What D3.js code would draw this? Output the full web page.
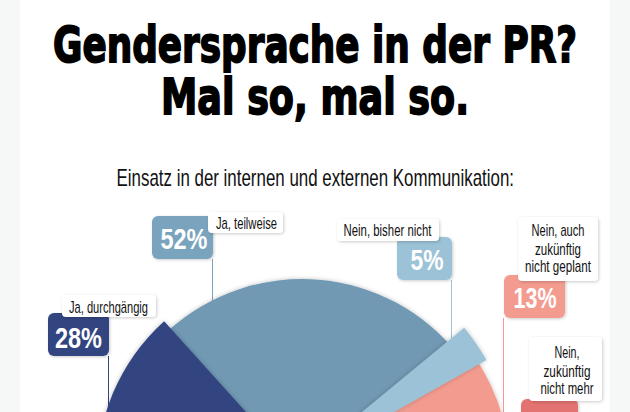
<!DOCTYPE html>
<html>
<head>
<meta charset="utf-8">
<script src="https://cdn.jsdelivr.net/npm/d3@7"></script>
<style>
    html, body { margin: 0; padding: 0; background: #f5f8f7; overflow: hidden; }
    svg { display: block; }
    text { font-family: "Liberation Sans", sans-serif; }
    text.title { font-family: "DejaVu Sans", sans-serif; }
</style>
</head>
<body>
<svg id="chart" width="630" height="412"></svg>
<script>
const titleLines = ['Gendersprache in der PR?', 'Mal so, mal so.'];
const subtitle = 'Einsatz in der internen und externen Kommunikation:';

const categories = ['Ja, durchgängig', 'Ja, teilweise', 'Nein, bisher nicht', 'Nein, auch zukünftig nicht geplant', 'Nein, zukünftig nicht mehr'];
const values = [28, 52, 5, 13, 2];
const colors = ['#334581', '#7199b3', '#9bc2d6', '#f39b8f', '#e37370'];
const boxColors = ['#334581', '#7aa4be', '#9bc2d6', '#f39b8f', '#e37370'];
const labelLines = [['Ja, durchgängig'], ['Ja, teilweise'], ['Nein, bisher nicht'], ['Nein, auch', 'zukünftig', 'nicht geplant'], ['Nein,', 'zukünftig', 'nicht mehr']];

const svg = d3.select('#chart');
const defs = svg.append('defs');

function addShadow(id, dx, dy, blur, opacity) {
    const f = defs.append('filter').attr('id', id)
        .attr('x', '-30%').attr('y', '-30%').attr('width', '160%').attr('height', '160%');
    f.append('feDropShadow')
        .attr('dx', dx).attr('dy', dy)
        .attr('stdDeviation', blur)
        .attr('flood-color', '#000').attr('flood-opacity', opacity);
}
addShadow('soft', 1, 1, 1.5, 0.2);
addShadow('slice', 0, 0, 2, 0.25);

// white page with pale side strips
svg.append('rect').attr('x', 20).attr('y', 0).attr('width', 590).attr('height', 412).attr('fill', '#fff');

// title, squeezed to the width of the original heavy condensed face
const titleBoxes = [[53, 577, 62], [161, 469, 114]];
svg.selectAll('text.title').data(titleLines).enter()
    .append('text')
    .classed('title', true)
    .attr('x', (d, i) => titleBoxes[i][0])
    .attr('y', (d, i) => titleBoxes[i][2])
    .attr('textLength', (d, i) => titleBoxes[i][1] - titleBoxes[i][0])
    .attr('lengthAdjust', 'spacingAndGlyphs')
    .attr('font-size', 49)
    .attr('font-weight', 700)
    .attr('stroke', '#000')
    .attr('stroke-width', 1.8)
    .attr('fill', '#000')
    .text(d => d);

svg.append('text')
    .attr('x', 116.5)
    .attr('y', 186)
    .attr('textLength', 397.5)
    .attr('lengthAdjust', 'spacingAndGlyphs')
    .attr('font-size', 24)
    .attr('fill', '#111')
    .text(subtitle);

// half pie, turned a little to the left like the original
const tilt = -2.4 * Math.PI / 180;
const pie = d3.pie().sort(null)
    .startAngle(-Math.PI / 2 + tilt)
    .endAngle(Math.PI / 2 + tilt);
const slices = pie(values);

// each slice sits a bit differently: offset from the centre, radius, and how far it tucks under its neighbour
const sliceLayout = [
    { dx: -2, dy: -6, r: 203, tuck: 0 },
    { dx: 0, dy: 0, r: 199, tuck: 0 },
    { dx: -9, dy: -9, r: 222, tuck: 0.02 },
    { dx: 3, dy: -6, r: 205, tuck: 0.1 },
    { dx: 3, dy: -6, r: 205, tuck: 0 }
];
const cx = 302, cy = 478;
const drawOrder = [1, 3, 4, 0, 2];

// callouts, with the drawn width of each text
const callouts = [
    { box: [48, 313, 61, 43], baseline: 348, tx: 78.5, tw: 47, label: [62, 295, 94, 22], lines: [313], widths: [79], lx: 108.5, stem: [108.5, 356, 412] },
    { box: [152, 216, 61, 43], baseline: 249, tx: 184, tw: 47, label: [208, 212, 75, 21], lines: [229], widths: [61], lx: 246.5, stem: [212.5, 259, 302] },
    { box: [397, 237, 55, 43], baseline: 270, tx: 427, tw: 33, label: [337, 219, 102, 22], lines: [236], widths: [88], lx: 387.5, stem: [451.5, 280, 342] },
    { box: [504, 275, 61, 43], baseline: 308, tx: 535, tw: 43, label: [518, 217, 80, 64], lines: [236, 255, 272], widths: [53, 46, 66], lx: 558, stem: [503.5, 318, 412] },
    { box: [521, 399, 57, 43], baseline: 432, tx: 549, tw: 33, label: [529, 337, 73, 64], lines: [358, 377, 394], widths: [25, 47, 53], lx: 567, stem: null }
];

const stems = svg.append('g');
callouts.forEach((c, i) => {
    if (!c.stem) return;
    stems.append('line')
        .attr('x1', c.stem[0]).attr('x2', c.stem[0])
        .attr('y1', c.stem[1]).attr('y2', c.stem[2])
        .attr('stroke', boxColors[i])
        .attr('stroke-width', 1);
});

const pieGroup = svg.append('g');
drawOrder.forEach(i => {
    const s = sliceLayout[i];
    const arc = d3.arc().innerRadius(0).outerRadius(s.r);
    const slice = { startAngle: slices[i].startAngle - s.tuck, endAngle: slices[i].endAngle };
    pieGroup.append('path')
        .attr('transform', `translate(${cx + s.dx},${cy + s.dy})`)
        .attr('d', arc(slice))
        .attr('fill', colors[i])
        .attr('filter', 'url(#slice)');
});

const boxes = svg.append('g');
callouts.forEach((c, i) => {
    boxes.append('rect')
        .attr('x', c.box[0]).attr('y', c.box[1])
        .attr('width', c.box[2]).attr('height', c.box[3])
        .attr('rx', 6)
        .attr('fill', boxColors[i])
        .attr('filter', 'url(#soft)');
    boxes.append('text')
        .attr('x', c.tx).attr('y', c.baseline)
        .attr('text-anchor', 'middle')
        .attr('textLength', c.tw)
        .attr('lengthAdjust', 'spacingAndGlyphs')
        .attr('font-size', 29)
        .attr('font-weight', 700)
        .attr('fill', '#fff')
        .text(values[i] + '%');
});

const labels = svg.append('g');
callouts.forEach((c, i) => {
    labels.append('rect')
        .attr('x', c.label[0]).attr('y', c.label[1])
        .attr('width', c.label[2]).attr('height', c.label[3])
        .attr('rx', 4)
        .attr('fill', '#fff')
        .attr('filter', 'url(#soft)');
    labelLines[i].forEach((line, j) => {
        labels.append('text')
            .attr('x', c.lx).attr('y', c.lines[j])
            .attr('text-anchor', 'middle')
            .attr('textLength', c.widths[j])
            .attr('lengthAdjust', 'spacingAndGlyphs')
            .attr('font-size', 17)
            .attr('fill', '#111')
            .text(line);
    });
});
</script>
</body>
</html>
